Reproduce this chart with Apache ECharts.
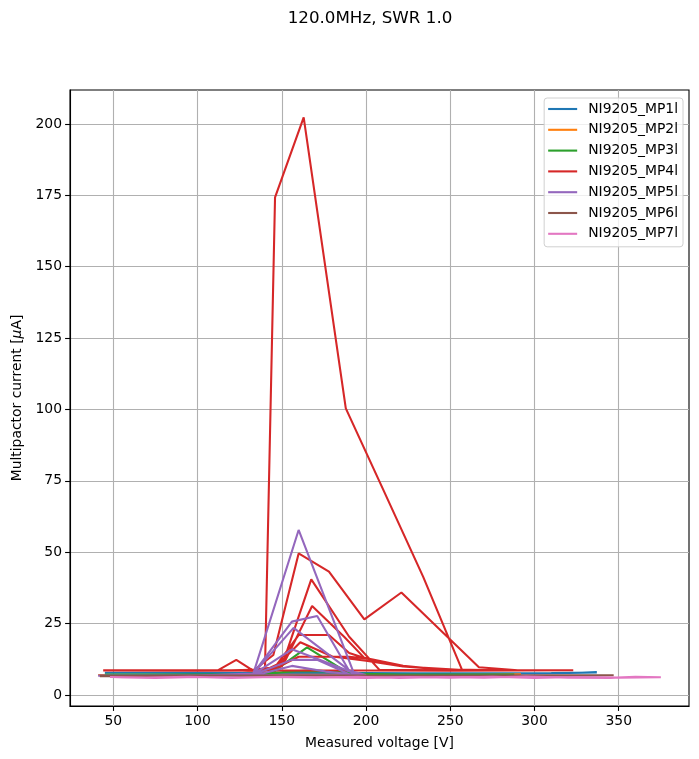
<!DOCTYPE html>
<html><head><meta charset="utf-8">
<script src="https://cdn.jsdelivr.net/npm/echarts@6/dist/echarts.min.js"></script>
<style>html,body{margin:0;padding:0;background:#fff}#c{width:699px;height:759px}</style>
</head><body><div id="c"></div>
<script>
const titleText = '120.0MHz, SWR 1.0';
const seriesNames = ['NI9205_MP1l','NI9205_MP2l','NI9205_MP3l','NI9205_MP4l','NI9205_MP5l','NI9205_MP6l','NI9205_MP7l'];
const colors = ['#1f77b4','#ff7f0e','#2ca02c','#d62728','#9467bd','#8c564b','#e377c2'];
const xTicks = [50,100,150,200,250,300,350];
const yTicks = [0,25,50,75,100,125,150,175,200];

const mp1V = [45,70,100,130,150,170,200,230,260,290,310,337,310,280,250,220,190,160,130,100,70,45,80,120,160,200,240,280,320,337];
const mp1I = [7.8,7.8,7.8,7.7,7.7,7.8,7.7,7.6,7.6,7.6,7.7,7.9,7.6,7.5,7.5,7.6,7.6,7.7,7.7,7.7,7.8,7.8,7.8,7.7,7.8,7.6,7.5,7.5,7.7,7.9];

const mp2V = [41,60,90,120,150,180,210,240,270,292,260,230,200,170,140,110,80,50,41];
const mp2I = [7.0,7.0,7.0,7.0,7.1,7.1,7.0,7.0,7.1,7.2,7.0,7.0,7.0,7.0,7.0,7.0,7.0,7.0,7.0];

const mp3V = [45,80,120,143,165,190,220,260,288,250,200,180,165,150,120,80,45,100,140,155,170,185,200,240,288];
const mp3I = [7.2,7.2,7.2,7.3,16.7,7.5,7.2,7.2,7.2,7.1,7.2,8.3,8.6,8.0,7.1,7.1,7.1,7.2,7.3,8.3,8.4,7.9,7.3,7.2,7.2];

const mp4V = [44,70,100,120,140,146,163,188,210,234,257,280,300,323,
  290,250,200,150,100,44,
  80,112,123,133,145,160,178,199,221,267,290,323,
  270,220,170,120,70,44,
  90,130,150,167.5,190,208,250,323,
  260,180,110,44,
  100,140,152,168,187,199,222,243,270,323,
  240,160,100,44,
  120,145,160,178,190,200,222,250,323,
  230,150,80,44,
  120,145,161,180,200,222,260,323,
  200,120,44,
  120,145,160,190,200,222,243,280,323];
const mp4I = [8.7,8.7,8.7,8.7,8.2,174.3,202.3,100.4,72.2,41.3,8.8,8.7,8.7,8.7,
  8.6,8.5,8.6,8.6,8.5,8.6,
  8.6,8.6,12.3,8.5,14,49.6,43.2,26.5,35.9,9.7,8.7,8.7,
  8.6,8.6,8.6,8.6,8.7,8.7,
  8.7,8.7,10,40.5,20.4,8.8,8.7,8.7,
  8.6,8.6,8.6,8.6,
  8.6,8.7,12,31.2,20.4,13,10.2,9,8.7,8.7,
  8.6,8.6,8.6,8.7,
  8.7,9,21,21,14.7,12.8,10,8.8,8.7,
  8.6,8.6,8.6,8.6,
  8.6,9,18.5,13.5,12,10,8.7,8.7,
  8.6,8.6,8.6,
  8.6,9,13.4,13.4,12.8,10.2,9,8.7,8.7];

const mp5V = [41,70,100,120,133,160,193,200,
  170,140,100,60,44,
  100,133,156,171,190,200,
  160,120,80,44,
  100,133,157,193,200,
  150,100,44,
  110,133,156,174,195,200,
  150,90,44,
  110,133,156,171,190,200,
  140,80,44,
  120,135,156,176,195,200];
const mp5I = [6.8,6.8,6.8,6.9,7.3,57.8,7.3,7.0,
  6.9,6.8,6.8,6.8,6.8,
  6.8,7.5,25.7,27.7,8.5,7.0,
  6.9,6.8,6.8,6.8,
  6.8,7.4,23.5,7.3,7.0,
  6.9,6.8,6.8,
  6.8,7.2,16,12,7.2,7.0,
  6.9,6.8,6.8,
  6.8,7.1,12.3,12.3,7.3,7.0,
  6.9,6.8,6.8,
  6.8,7.0,10.2,8.2,7.0,6.9];

const mp6V = [42,60,90,120,150,180,210,240,270,300,330,347,320,280,240,200,160,120,80,49,42];
const mp6I = [6.7,6.7,6.8,6.8,6.8,6.8,6.8,6.8,6.8,6.9,6.9,6.9,6.8,6.8,6.8,6.8,6.8,6.8,6.7,6.6,6.6];

const mp7V = [48,70,95,120,145,170,195,220,245,270,295,320,345,360,375,350,325,300,275,250,225,200,175,150,125,100,75,50];
const mp7I = [6.3,6.1,6.4,6.0,6.3,6.1,6.4,6.0,6.3,6.1,6.5,6.1,6.0,6.4,6.2,6.1,6.3,6.0,6.4,6.1,6.3,6.0,6.2,6.4,6.1,6.3,6.0,6.2];

const allV = [mp1V,mp2V,mp3V,mp4V,mp5V,mp6V,mp7V];
const allI = [mp1I,mp2I,mp3I,mp4I,mp5I,mp6I,mp7I];

const FONT = 'DejaVu Sans';
const LW = 2.08;
const series = seriesNames.map((n, k) => ({
  name: n, type: 'line', symbol: 'none', smooth: false,
  data: allV[k].map((v, j) => [v, allI[k][j]]),
  lineStyle: { color: colors[k], width: LW },
  itemStyle: { color: colors[k] },
  emphasis: { disabled: true },
  animation: false
}));

const chart = echarts.init(document.getElementById('c'), null, { renderer: 'canvas' });
chart.setOption({
  animation: false,
  backgroundColor: '#fff',
  graphic: [{ type: 'text', x: 370, y: 19, style: { text: titleText, font: '16.7px "DejaVu Sans"', fill: '#000', textAlign: 'center', textVerticalAlign: 'middle' } }],
  grid: { left: 70, right: 10, top: 90, bottom: 53, containLabel: false, outerBoundsMode: 'none', show: true, borderColor: '#000', borderWidth: 1.1, backgroundColor: 'transparent' },
  legend: {
    data: seriesNames, orient: 'vertical', right: 16, top: 98,
    icon: 'rect', itemWidth: 29, itemHeight: 2.1, itemGap: 6.8,
    backgroundColor: 'rgba(255,255,255,0.8)', borderColor: '#d0d0d0', borderWidth: 1, borderRadius: 3,
    padding: [4, 5, 6, 4],
    textStyle: { fontFamily: FONT, fontSize: 13.9, color: '#000', padding: [0, 0, 0, 6], lineHeight: 14 }
  },
  xAxis: {
    type: 'value', min: 24.3, max: 391.7,
    name: 'Measured voltage [V]', nameLocation: 'middle', nameGap: 30,
    nameTextStyle: { fontFamily: FONT, fontSize: 13.9, color: '#000' },
    axisLine: { show: true, onZero: false, lineStyle: { color: '#000', width: 1.1 } },
    axisTick: { show: true, customValues: xTicks, length: 4.9, lineStyle: { color: '#000', width: 1.1 } },
    axisLabel: { customValues: xTicks, color: '#000', fontFamily: FONT, fontSize: 13.9, margin: 8 },
    splitLine: { show: true, lineStyle: { color: '#b0b0b0', width: 1.1 } }
  },
  yAxis: {
    type: 'value', min: -3.85, max: 211.9,
    name: 'Multipactor current [{i|μ}A]', nameLocation: 'middle', nameGap: 45,
    nameTextStyle: { fontFamily: FONT, fontSize: 13.9, color: '#000', rich: { i: { fontStyle: 'italic', fontFamily: FONT, fontSize: 13.9, color: '#000' } } },
    axisLine: { show: true, onZero: false, lineStyle: { color: '#000', width: 1.1 } },
    axisTick: { show: true, customValues: yTicks, length: 4.9, lineStyle: { color: '#000', width: 1.1 } },
    axisLabel: { customValues: yTicks, color: '#000', fontFamily: FONT, fontSize: 13.9, margin: 8 },
    splitLine: { show: true, lineStyle: { color: '#b0b0b0', width: 1.1 } }
  },
  series: series
});
</script>
</body></html>
